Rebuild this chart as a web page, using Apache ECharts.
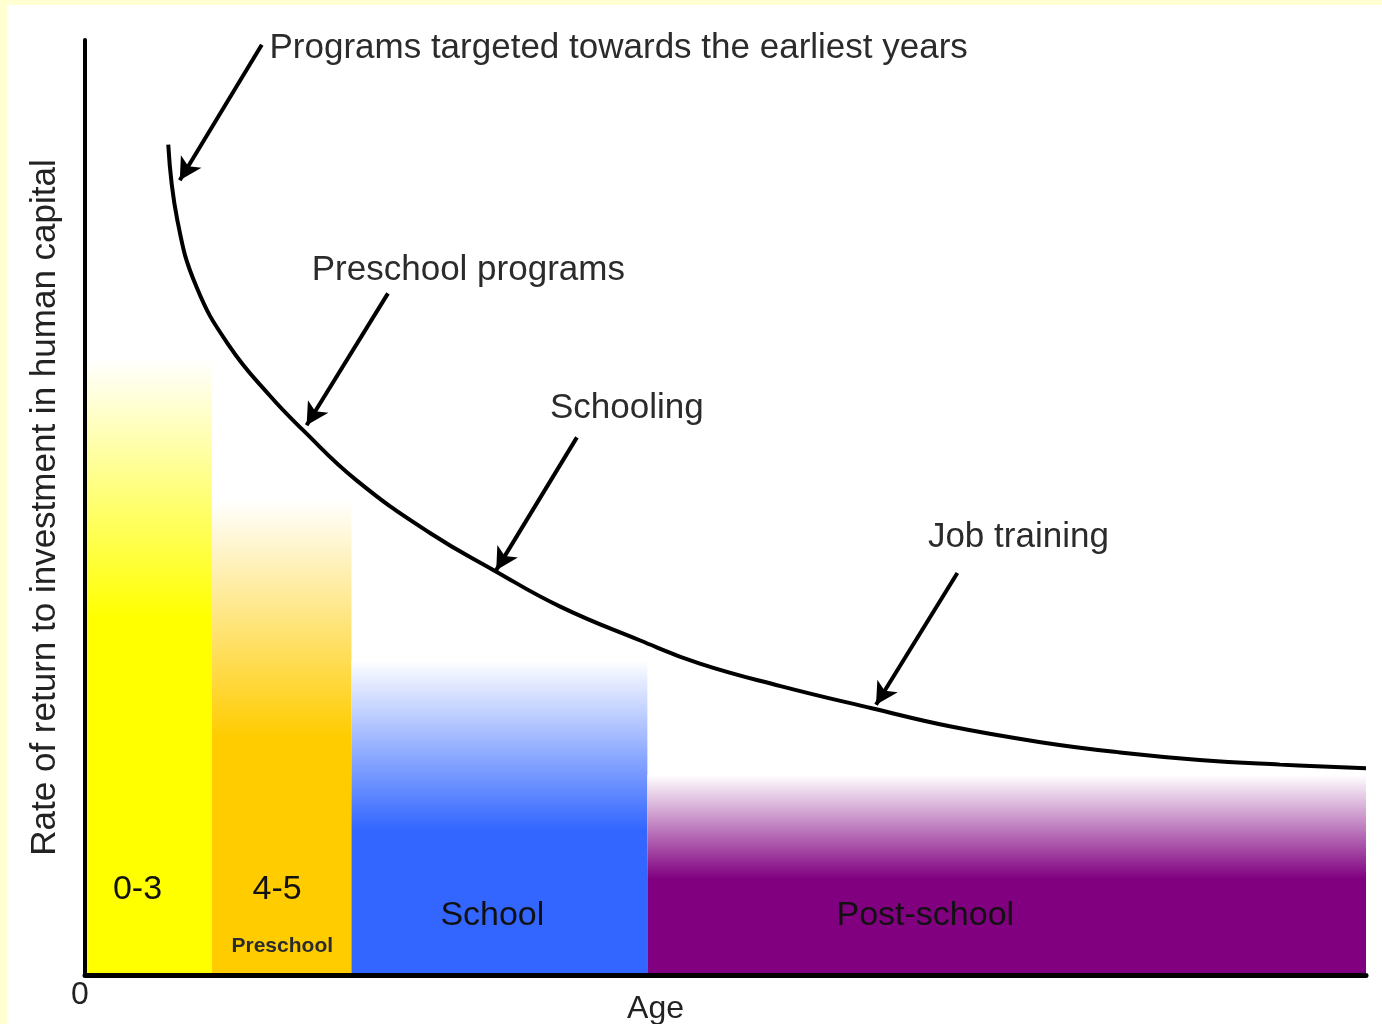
<!DOCTYPE html>
<html>
<head>
<meta charset="utf-8">
<script src="https://cdn.jsdelivr.net/npm/echarts@6/dist/echarts.min.js"></script>
<style>
  html, body { margin: 0; padding: 0; background: #ffffd2; }
  #chart { position: absolute; left: 7px; top: 5px; width: 1375px; height: 1019px; background: #fff; }
</style>
</head>
<body>
<div id="chart"></div>
<script>
// age bands (x in relative age units 0..100, y = rate of return 0..100)
const bandNames = ['0-3', '4-5', 'School', 'Post-school']
const bandStart = [0, 9.9, 20.8, 43.9]
const bandEnd = [9.9, 20.8, 43.9, 100]
const bandTop = [65.8, 50.8, 33.7, 21.4]

// rate of return curve
const curveX = [6.5, 7.2, 8.7, 11.3, 14.4, 17.0, 21.2, 26.9, 31.9, 37.1, 43.3, 48.0, 54.3, 61.5, 67.5, 74.6, 80.8, 87.0, 93.3, 100]
const curveY = [88.8, 80.8, 73.6, 67.2, 62.0, 58.3, 52.9, 47.3, 43.3, 39.4, 35.8, 33.3, 30.9, 28.5, 26.6, 24.9, 23.8, 23.0, 22.5, 22.1]

// annotations with arrows
const noteText = ['Programs targeted towards the earliest years', 'Preschool programs', 'Schooling', 'Job training']
const noteAt = [[14.4, 99.1], [17.7, 75.4], [36.3, 60.6], [65.8, 46.8]]
const arrowFrom = [[13.8, 99.5], [23.65, 72.9], [38.4, 57.5], [68.1, 43.0]]
const arrowTo = [[7.4, 85.0], [17.3, 58.8], [32.1, 43.3], [61.75, 28.9]]

// labels inside the bands
const bandLabelText = ['0-3', '4-5', 'School', 'Post-school']
const bandLabelAt = [[4.1, 9.1], [15.0, 9.1], [31.8, 6.3], [65.6, 6.3]]
const subLabelText = ['Preschool']
const subLabelAt = [[15.4, 3.1]]

const bandColors = ['#ffff00', '#ffcc00', '#3366ff', '#800080']
const bandSolidStop = [0.42, 0.5, 0.54, 0.52]
const FONT = '"Liberation Sans", Arial, sans-serif'

const chart = echarts.init(document.getElementById('chart'))

const textSeries = (texts, points, label) => ({
  type: 'scatter',
  symbolSize: 0,
  silent: true,
  z: 6,
  itemStyle: { opacity: 1 },
  data: texts.map((t, i) => ({ value: points[i], name: t })),
  label: Object.assign({ show: true, formatter: p => p.name, fontFamily: FONT }, label)
})

const option = {
  animation: false,
  textStyle: { fontFamily: FONT },
  grid: { left: 78, right: 16, top: 35, bottom: 49, containLabel: false, outerBoundsMode: 'none' },
  xAxis: {
    type: 'value',
    min: 0,
    max: 100,
    interval: 100,
    z: 10,
    name: 'Age',
    nameLocation: 'middle',
    nameGap: 18,
    nameMoveOverlap: false,
    nameTextStyle: { fontSize: 32, color: '#222', fontFamily: FONT, padding: [0, 140, 0, 0] },
    axisLine: { lineStyle: { color: '#000', width: 5 } },
    axisTick: { show: false },
    splitLine: { show: false },
    axisLabel: {
      fontSize: 32,
      color: '#222',
      margin: 4,
      padding: [0, 10, 0, 0],
      formatter: v => (v === 0 ? '0' : '')
    }
  },
  yAxis: {
    type: 'value',
    min: 0,
    max: 100,
    z: 10,
    name: 'Rate of return to investment in human capital',
    nameLocation: 'middle',
    nameGap: 22,
    nameMoveOverlap: false,
    nameTextStyle: { fontSize: 35, color: '#222', fontFamily: FONT },
    axisLine: { show: true, lineStyle: { color: '#000', width: 4 } },
    axisTick: { show: false },
    axisLabel: { show: false },
    splitLine: { show: false }
  },
  series: [
    {
      type: 'custom',
      silent: true,
      encode: { x: [0, 1], y: 2 },
      data: bandNames.map((n, i) => [bandStart[i], bandEnd[i], bandTop[i]]),
      renderItem: (params, api) => {
        const i = params.dataIndex
        const p0 = api.coord([api.value(0), api.value(2)])
        const p1 = api.coord([api.value(1), 0])
        return {
          type: 'rect',
          shape: { x: p0[0], y: p0[1], width: p1[0] - p0[0], height: p1[1] - p0[1] },
          style: {
            fill: new echarts.graphic.LinearGradient(0, 0, 0, 1, [
              { offset: 0, color: '#ffffff' },
              { offset: bandSolidStop[i], color: bandColors[i] },
              { offset: 1, color: bandColors[i] }
            ])
          }
        }
      }
    },
    {
      type: 'line',
      data: curveX.map((x, i) => [x, curveY[i]]),
      smooth: 0.45,
      showSymbol: false,
      silent: true,
      lineStyle: { color: '#000', width: 4 },
      z: 5,
      markLine: {
        silent: true,
        symbol: ['none', 'arrow'],
        symbolSize: [18, 22],
        label: { show: false },
        lineStyle: { color: '#000', width: 4, type: 'solid' },
        data: arrowFrom.map((a, i) => [{ coord: a }, { coord: arrowTo[i] }])
      }
    },
    textSeries(noteText, noteAt, { position: 'right', distance: 0, fontSize: 35, color: '#2b2b2b' }),
    textSeries(bandLabelText, bandLabelAt, { position: 'inside', fontSize: 34, color: '#111' }),
    textSeries(subLabelText, subLabelAt, { position: 'inside', fontSize: 21, fontWeight: 'bold', color: '#2b2b2b' })
  ]
}

chart.setOption(option)
window.addEventListener('resize', () => chart.resize())
</script>
</body>
</html>
